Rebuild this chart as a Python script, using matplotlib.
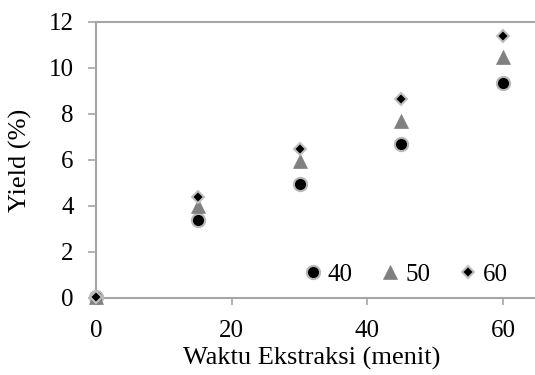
import matplotlib
matplotlib.use("Agg")
import matplotlib.pyplot as plt

waktu = [0, 15, 30, 45, 60]
yield_40 = [0.05, 3.4, 4.97, 6.68, 9.36]
yield_50 = [0.05, 4.0, 5.95, 7.7, 10.5]
yield_60 = [0.05, 4.4, 6.46, 8.64, 11.38]
labels = ["40", "50", "60"]
xticks = [0, 20, 40, 60]
yticks = [0, 2, 4, 6, 8, 10, 12]

plt.rcParams['font.family'] = ['Liberation Serif', 'DejaVu Serif']

fig = plt.figure(figsize=(5.35, 3.75), dpi=100)
ax = fig.add_axes([96/535, 77/375, 441/535, 276/375])

spine_c = '#a6a6a6'
ax.plot(waktu, yield_40, linestyle='none', marker='o', ms=9.5, mfc='black',
        mec='#b8b8b8', mew=1.5, label=labels[0], clip_on=False, zorder=3)
ax.plot(waktu, yield_50, linestyle='none', marker='^', ms=10.5, mfc='#808080',
        mec='#808080', mew=0.5, label=labels[1], clip_on=False, zorder=4)
ax.plot(waktu, yield_60, linestyle='none', marker='D', ms=6.5, mfc='black',
        mec='#c0c0c0', mew=1.5, label=labels[2], clip_on=False, zorder=5)

ax.set_xlim(0, 65)
ax.set_ylim(0, 12)
ax.set_xticks(xticks)
ax.set_yticks(yticks)
ax.tick_params(axis='both', direction='out', width=1.2, color=spine_c, labelsize=18)
ax.tick_params(axis='y', length=6, pad=10)
ax.tick_params(axis='x', length=5, pad=10.5)
for s in ['left', 'top', 'bottom']:
    ax.spines[s].set_color(spine_c)
    ax.spines[s].set_linewidth(1.5)
ax.spines['right'].set_visible(False)

ax.set_xlabel('Waktu Ekstraksi (menit)', fontsize=19)
ax.xaxis.set_label_coords(0.49, -0.178)
ax.set_ylabel('Yield (%)', fontsize=19)
ax.yaxis.set_label_coords(-0.145, 0.5)

leg = ax.legend(loc='center left', bbox_to_anchor=(0.457, 0.084), ncol=3, frameon=False,
                fontsize=18, handletextpad=0.0, columnspacing=0.9, handlelength=1.2,
                borderpad=0, borderaxespad=0)

fig.savefig('out.png', dpi=100)
